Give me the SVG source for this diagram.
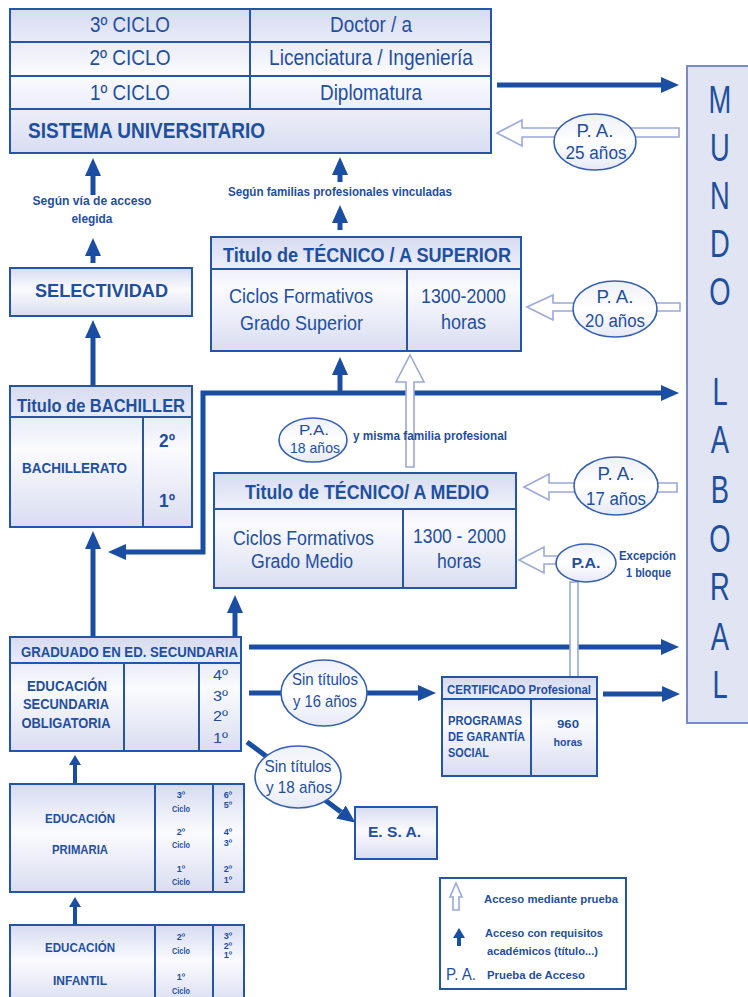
<svg xmlns="http://www.w3.org/2000/svg" width="748" height="997" viewBox="0 0 748 997">
<style>
.t{font-family:'Liberation Sans',Arial,sans-serif;fill:#1f4f9f}
.b{font-weight:bold}
.box{fill:url(#g);stroke:#2456a8;stroke-width:2}
.ln{stroke:#2456a8;stroke-width:2;fill:none}
.arr{stroke:#1a4ea3;stroke-width:5;fill:none}
.arrs{stroke:#1a4ea3;stroke-width:4;fill:none}
.hol{fill:#ffffff;stroke:#9aa8dc;stroke-width:1.6}
.ell{fill:url(#ge);stroke:#3560b0;stroke-width:1.6}
</style>
<defs>
<linearGradient id="g" x1="0" y1="0" x2="0" y2="1">
<stop offset="0" stop-color="#d6dbf0"/><stop offset="0.45" stop-color="#fbfbfe"/><stop offset="1" stop-color="#d9ddf1"/>
</linearGradient>
<linearGradient id="ge" x1="0" y1="0" x2="0" y2="1">
<stop offset="0" stop-color="#eef0f9"/><stop offset="0.5" stop-color="#ffffff"/><stop offset="1" stop-color="#e6e9f6"/>
</linearGradient>
<marker id="ah" viewBox="0 -8 18 16" refX="0" refY="0" markerWidth="18" markerHeight="16" markerUnits="userSpaceOnUse" orient="auto-start-reverse">
<path d="M0,-8 L18,0 L0,8 z" fill="#1a4ea3"/>
</marker>
<marker id="as" viewBox="0 -6 10 12" refX="0" refY="0" markerWidth="10" markerHeight="12" markerUnits="userSpaceOnUse" orient="auto">
<path d="M0,-6 L10,0 L0,6 z" fill="#1a4ea3"/>
</marker>
</defs>
<rect width="748" height="997" fill="#ffffff"/>

<!-- Mundo laboral -->
<g id="mundo-laboral">
<rect x="687" y="66" width="70" height="657" fill="#e1e4f3" stroke="#7a8cc8" stroke-width="2"/>
<g transform="scale(0.72,1)" class="t" font-size="38" text-anchor="middle">
<text x="1000" y="113">M</text><text x="1000" y="161">U</text><text x="1000" y="209">N</text><text x="1000" y="257">D</text><text x="1000" y="305">O</text>
<text x="1000" y="405">L</text><text x="1000" y="453">A</text><text x="1000" y="503">B</text><text x="1000" y="552">O</text><text x="1000" y="600">R</text><text x="1000" y="650">A</text><text x="1000" y="698">L</text>
</g>
</g>

<!-- Connectors -->
<g id="connectors">
<path class="arr" d="M497,85 H661" marker-end="url(#ah)"/>
<path class="arr" d="M93,195 V176" marker-end="url(#ah)"/>
<path class="arr" d="M340,182 V175" marker-end="url(#ah)"/>
<path class="arr" d="M93,263 V256" marker-end="url(#ah)"/>
<path class="arr" d="M340,230 V223" marker-end="url(#ah)"/>
<path class="arr" d="M93,385 V338" marker-end="url(#ah)"/>
<path class="arr" d="M93,636 V549" marker-end="url(#ah)"/>
<path class="arr" d="M661,393 H203 V552 H126" marker-start="url(#ah)" marker-end="url(#ah)"/>
<path class="arr" d="M340,393 V375" marker-end="url(#ah)"/>
<path class="arr" d="M235,636 V613" marker-end="url(#ah)"/>
<path class="arr" d="M249,647 H661" marker-end="url(#ah)"/>
<path class="arr" d="M249,693 H418" marker-end="url(#ah)"/>
<path class="arr" d="M603,694 H662" marker-end="url(#ah)"/>
<path class="arr" d="M247,742 L341,812" marker-end="url(#ah)"/>
<path class="arrs" d="M75,784 V765" marker-end="url(#as)"/>
<path class="arrs" d="M75,924 V907" marker-end="url(#as)"/>
<!-- hollow arrows (access by test) -->
<polygon class="hol" points="497,133 522,120 522,128 679,128 679,137 522,137 522,146"/>
<polygon class="hol" points="527,307 553,295 553,303 680,303 680,311 553,311 553,320"/>
<polygon class="hol" points="524,487 549,474 549,483 677,483 677,492 549,492 549,500"/>
<polygon class="hol" points="519,560 544,547 544,556 562,556 562,564 544,564 544,573"/>
<polygon class="hol" points="410,355 424,382 414,382 414,467 406,467 406,382 396,382"/>
<rect class="hol" x="570" y="582" width="8" height="95"/>
</g>

<!-- Sistema universitario -->
<g id="universidad">
<rect class="box" x="10" y="9" width="481" height="144"/>
<path class="ln" d="M10,42 H491 M10,76 H491 M10,109 H491 M250,9 V109"/>
<text class="t" x="130" y="32" font-size="22" text-anchor="middle" textLength="80" lengthAdjust="spacingAndGlyphs">3º CICLO</text>
<text class="t" x="371" y="32" font-size="22" text-anchor="middle" textLength="82" lengthAdjust="spacingAndGlyphs">Doctor / a</text>
<text class="t" x="130" y="65" font-size="22" text-anchor="middle" textLength="81" lengthAdjust="spacingAndGlyphs">2º CICLO</text>
<text class="t" x="371" y="65" font-size="22" text-anchor="middle" textLength="204" lengthAdjust="spacingAndGlyphs">Licenciatura / Ingeniería</text>
<text class="t" x="130" y="100" font-size="22" text-anchor="middle" textLength="80" lengthAdjust="spacingAndGlyphs">1º CICLO</text>
<text class="t" x="371" y="100" font-size="22" text-anchor="middle" textLength="102" lengthAdjust="spacingAndGlyphs">Diplomatura</text>
<text class="t b" x="28" y="138" font-size="22" textLength="237" lengthAdjust="spacingAndGlyphs">SISTEMA UNIVERSITARIO</text>
</g>

<g id="pa25">
<ellipse class="ell" cx="595" cy="142" rx="41" ry="28"/>
<text class="t" x="595" y="137" font-size="18" text-anchor="middle" textLength="37" lengthAdjust="spacingAndGlyphs">P. A.</text>
<text class="t" x="596" y="159" font-size="18" text-anchor="middle" textLength="61" lengthAdjust="spacingAndGlyphs">25 años</text>
</g>

<g id="label-via">
<text class="t b" x="92" y="205" font-size="12" text-anchor="middle" textLength="119" lengthAdjust="spacingAndGlyphs">Según vía de acceso</text>
<text class="t b" x="92" y="223" font-size="12" text-anchor="middle" textLength="41" lengthAdjust="spacingAndGlyphs">elegida</text>
</g>
<g id="label-familias">
<text class="t b" x="228" y="196" font-size="12" textLength="224" lengthAdjust="spacingAndGlyphs">Según familias profesionales vinculadas</text>
</g>

<g id="selectividad">
<rect class="box" x="10" y="268" width="182" height="48"/>
<text class="t b" x="35" y="297" font-size="19" textLength="133" lengthAdjust="spacingAndGlyphs">SELECTIVIDAD</text>
</g>

<g id="tecnico-superior">
<rect class="box" x="211" y="237" width="310" height="114"/>
<path class="ln" d="M211,269 H521 M407,269 V351"/>
<text class="t b" x="223" y="262" font-size="21" textLength="288" lengthAdjust="spacingAndGlyphs">Titulo de TÉCNICO / A SUPERIOR</text>
<text class="t" x="229" y="303" font-size="20" textLength="144" lengthAdjust="spacingAndGlyphs">Ciclos Formativos</text>
<text class="t" x="240" y="330" font-size="20" textLength="123" lengthAdjust="spacingAndGlyphs">Grado Superior</text>
<text class="t" x="421" y="303" font-size="20" textLength="85" lengthAdjust="spacingAndGlyphs">1300-2000</text>
<text class="t" x="441" y="329" font-size="20" textLength="45" lengthAdjust="spacingAndGlyphs">horas</text>
</g>

<g id="pa20">
<ellipse class="ell" cx="615" cy="309" rx="42" ry="28"/>
<text class="t" x="615" y="303" font-size="18" text-anchor="middle" textLength="37" lengthAdjust="spacingAndGlyphs">P. A.</text>
<text class="t" x="615" y="327" font-size="18" text-anchor="middle" textLength="60" lengthAdjust="spacingAndGlyphs">20 años</text>
</g>

<g id="bachiller">
<rect class="box" x="10" y="386" width="182" height="141"/>
<path class="ln" d="M10,417 H192 M143,417 V527"/>
<text class="t b" x="17" y="412" font-size="19" textLength="168" lengthAdjust="spacingAndGlyphs">Titulo de BACHILLER</text>
<text class="t b" x="22" y="473" font-size="14" textLength="105" lengthAdjust="spacingAndGlyphs">BACHILLERATO</text>
<text class="t b" x="159" y="447" font-size="19" textLength="16" lengthAdjust="spacingAndGlyphs">2º</text>
<text class="t b" x="159" y="507" font-size="19" textLength="16" lengthAdjust="spacingAndGlyphs">1º</text>
</g>

<g id="pa18">
<ellipse class="ell" cx="313" cy="440" rx="34" ry="22"/>
<text class="t" x="314" y="435" font-size="15" text-anchor="middle" textLength="30" lengthAdjust="spacingAndGlyphs">P.A.</text>
<text class="t" x="315" y="453" font-size="15" text-anchor="middle" textLength="50" lengthAdjust="spacingAndGlyphs">18 años</text>
<text class="t b" x="353" y="440" font-size="12" textLength="154" lengthAdjust="spacingAndGlyphs">y misma familia profesional</text>
</g>

<g id="tecnico-medio">
<rect class="box" x="214" y="473" width="302" height="115"/>
<path class="ln" d="M214,509 H516 M403,509 V588"/>
<text class="t b" x="245" y="499" font-size="21" textLength="244" lengthAdjust="spacingAndGlyphs">Titulo de TÉCNICO/ A MEDIO</text>
<text class="t" x="233" y="545" font-size="20" textLength="141" lengthAdjust="spacingAndGlyphs">Ciclos Formativos</text>
<text class="t" x="251" y="568" font-size="20" textLength="102" lengthAdjust="spacingAndGlyphs">Grado Medio</text>
<text class="t" x="413" y="543" font-size="20" textLength="93" lengthAdjust="spacingAndGlyphs">1300 - 2000</text>
<text class="t" x="437" y="568" font-size="20" textLength="44" lengthAdjust="spacingAndGlyphs">horas</text>
</g>

<g id="pa17">
<ellipse class="ell" cx="616" cy="486" rx="42" ry="29"/>
<text class="t" x="616" y="480" font-size="18" text-anchor="middle" textLength="37" lengthAdjust="spacingAndGlyphs">P. A.</text>
<text class="t" x="616" y="505" font-size="18" text-anchor="middle" textLength="60" lengthAdjust="spacingAndGlyphs">17 años</text>
</g>

<g id="pa-excepcion">
<ellipse class="ell" cx="586" cy="563" rx="30" ry="19"/>
<text class="t b" x="586" y="568" font-size="14" text-anchor="middle" textLength="29" lengthAdjust="spacingAndGlyphs">P.A.</text>
<text class="t b" x="619" y="560" font-size="12" textLength="57" lengthAdjust="spacingAndGlyphs">Excepción</text>
<text class="t b" x="626" y="577" font-size="12" textLength="45" lengthAdjust="spacingAndGlyphs">1 bloque</text>
</g>

<g id="eso">
<rect class="box" x="10" y="637" width="231" height="114"/>
<path class="ln" d="M10,663 H241 M124,663 V751 M199,663 V751"/>
<text class="t b" x="21" y="657" font-size="14" textLength="217" lengthAdjust="spacingAndGlyphs">GRADUADO EN ED. SECUNDARIA</text>
<text class="t b" x="67" y="691" font-size="15" text-anchor="middle" textLength="80" lengthAdjust="spacingAndGlyphs">EDUCACIÓN</text>
<text class="t b" x="66" y="709" font-size="15" text-anchor="middle" textLength="86" lengthAdjust="spacingAndGlyphs">SECUNDARIA</text>
<text class="t b" x="66" y="728" font-size="15" text-anchor="middle" textLength="89" lengthAdjust="spacingAndGlyphs">OBLIGATORIA</text>
<text class="t" x="213" y="680" font-size="14" textLength="15" lengthAdjust="spacingAndGlyphs">4º</text>
<text class="t" x="213" y="701" font-size="14" textLength="15" lengthAdjust="spacingAndGlyphs">3º</text>
<text class="t" x="213" y="721" font-size="14" textLength="15" lengthAdjust="spacingAndGlyphs">2º</text>
<text class="t" x="213" y="743" font-size="14" textLength="15" lengthAdjust="spacingAndGlyphs">1º</text>
</g>

<g id="sin-titulos-16">
<ellipse class="ell" cx="324" cy="693" rx="43" ry="33"/>
<text class="t" x="325" y="685" font-size="17" text-anchor="middle" textLength="66" lengthAdjust="spacingAndGlyphs">Sin títulos</text>
<text class="t" x="325" y="707" font-size="17" text-anchor="middle" textLength="64" lengthAdjust="spacingAndGlyphs">y 16 años</text>
</g>

<g id="sin-titulos-18">
<ellipse class="ell" cx="298" cy="777" rx="43" ry="31"/>
<text class="t" x="298" y="772" font-size="17" text-anchor="middle" textLength="67" lengthAdjust="spacingAndGlyphs">Sin títulos</text>
<text class="t" x="299" y="793" font-size="17" text-anchor="middle" textLength="66" lengthAdjust="spacingAndGlyphs">y 18 años</text>
</g>

<g id="certificado">
<rect class="box" x="442" y="677" width="155" height="99"/>
<path class="ln" d="M442,699 H597 M531,699 V776"/>
<text class="t b" x="447" y="694" font-size="12" textLength="144" lengthAdjust="spacingAndGlyphs">CERTIFICADO Profesional</text>
<text class="t b" x="448" y="725" font-size="12" textLength="74" lengthAdjust="spacingAndGlyphs">PROGRAMAS</text>
<text class="t b" x="448" y="741" font-size="12" textLength="77" lengthAdjust="spacingAndGlyphs">DE GARANTÍA</text>
<text class="t b" x="448" y="757" font-size="12" textLength="41" lengthAdjust="spacingAndGlyphs">SOCIAL</text>
<text class="t b" x="568" y="728" font-size="11" text-anchor="middle" textLength="22" lengthAdjust="spacingAndGlyphs">960</text>
<text class="t b" x="568" y="746" font-size="11" text-anchor="middle" textLength="29" lengthAdjust="spacingAndGlyphs">horas</text>
</g>

<g id="esa">
<rect class="box" x="355" y="807" width="82" height="52"/>
<text class="t b" x="368" y="837" font-size="15" textLength="53" lengthAdjust="spacingAndGlyphs">E. S. A.</text>
</g>

<g id="primaria">
<rect class="box" x="10" y="784" width="234" height="108"/>
<path class="ln" d="M155,784 V892 M213,784 V892"/>
<text class="t b" x="45" y="823" font-size="13" textLength="70" lengthAdjust="spacingAndGlyphs">EDUCACIÓN</text>
<text class="t b" x="52" y="854" font-size="13" textLength="56" lengthAdjust="spacingAndGlyphs">PRIMARIA</text>
<g class="t b" font-size="9" text-anchor="middle">
<text x="181" y="798">3º</text><text x="181" y="812" textLength="18" lengthAdjust="spacingAndGlyphs">Ciclo</text>
<text x="181" y="835">2º</text><text x="181" y="848" textLength="18" lengthAdjust="spacingAndGlyphs">Ciclo</text>
<text x="181" y="872">1º</text><text x="181" y="885" textLength="18" lengthAdjust="spacingAndGlyphs">Ciclo</text>
<text x="228" y="798">6º</text><text x="228" y="808">5º</text>
<text x="228" y="835">4º</text><text x="228" y="846">3º</text>
<text x="228" y="872">2º</text><text x="228" y="883">1º</text>
</g>
</g>

<g id="infantil">
<rect class="box" x="10" y="925" width="234" height="80"/>
<path class="ln" d="M155,925 V1000 M213,925 V1000"/>
<text class="t b" x="45" y="952" font-size="13" textLength="70" lengthAdjust="spacingAndGlyphs">EDUCACIÓN</text>
<text class="t b" x="53" y="985" font-size="13" textLength="54" lengthAdjust="spacingAndGlyphs">INFANTIL</text>
<g class="t b" font-size="9" text-anchor="middle">
<text x="181" y="940">2º</text><text x="181" y="954" textLength="18" lengthAdjust="spacingAndGlyphs">Ciclo</text>
<text x="181" y="980">1º</text><text x="181" y="994" textLength="18" lengthAdjust="spacingAndGlyphs">Ciclo</text>
<text x="228" y="939">3º</text><text x="228" y="949">2º</text><text x="228" y="958">1º</text>
</g>
</g>

<g id="leyenda">
<rect x="440" y="878" width="186" height="111" fill="#ffffff" stroke="#2456a8" stroke-width="2"/>
<polygon class="hol" points="456,883 462,897 459,897 459,910 453,910 453,897 450,897"/>
<path class="arrs" d="M459,946 V938" marker-end="url(#as)"/>
<text class="t b" x="484" y="903" font-size="11" textLength="134" lengthAdjust="spacingAndGlyphs">Acceso mediante prueba</text>
<text class="t b" x="485" y="937" font-size="11" textLength="118" lengthAdjust="spacingAndGlyphs">Acceso con requisitos</text>
<text class="t b" x="487" y="955" font-size="11" textLength="111" lengthAdjust="spacingAndGlyphs">académicos (título...)</text>
<text class="t" x="446" y="980" font-size="16" textLength="30" lengthAdjust="spacingAndGlyphs">P. A.</text>
<text class="t b" x="487" y="979" font-size="11" textLength="98" lengthAdjust="spacingAndGlyphs">Prueba de Acceso</text>
</g>
</svg>
